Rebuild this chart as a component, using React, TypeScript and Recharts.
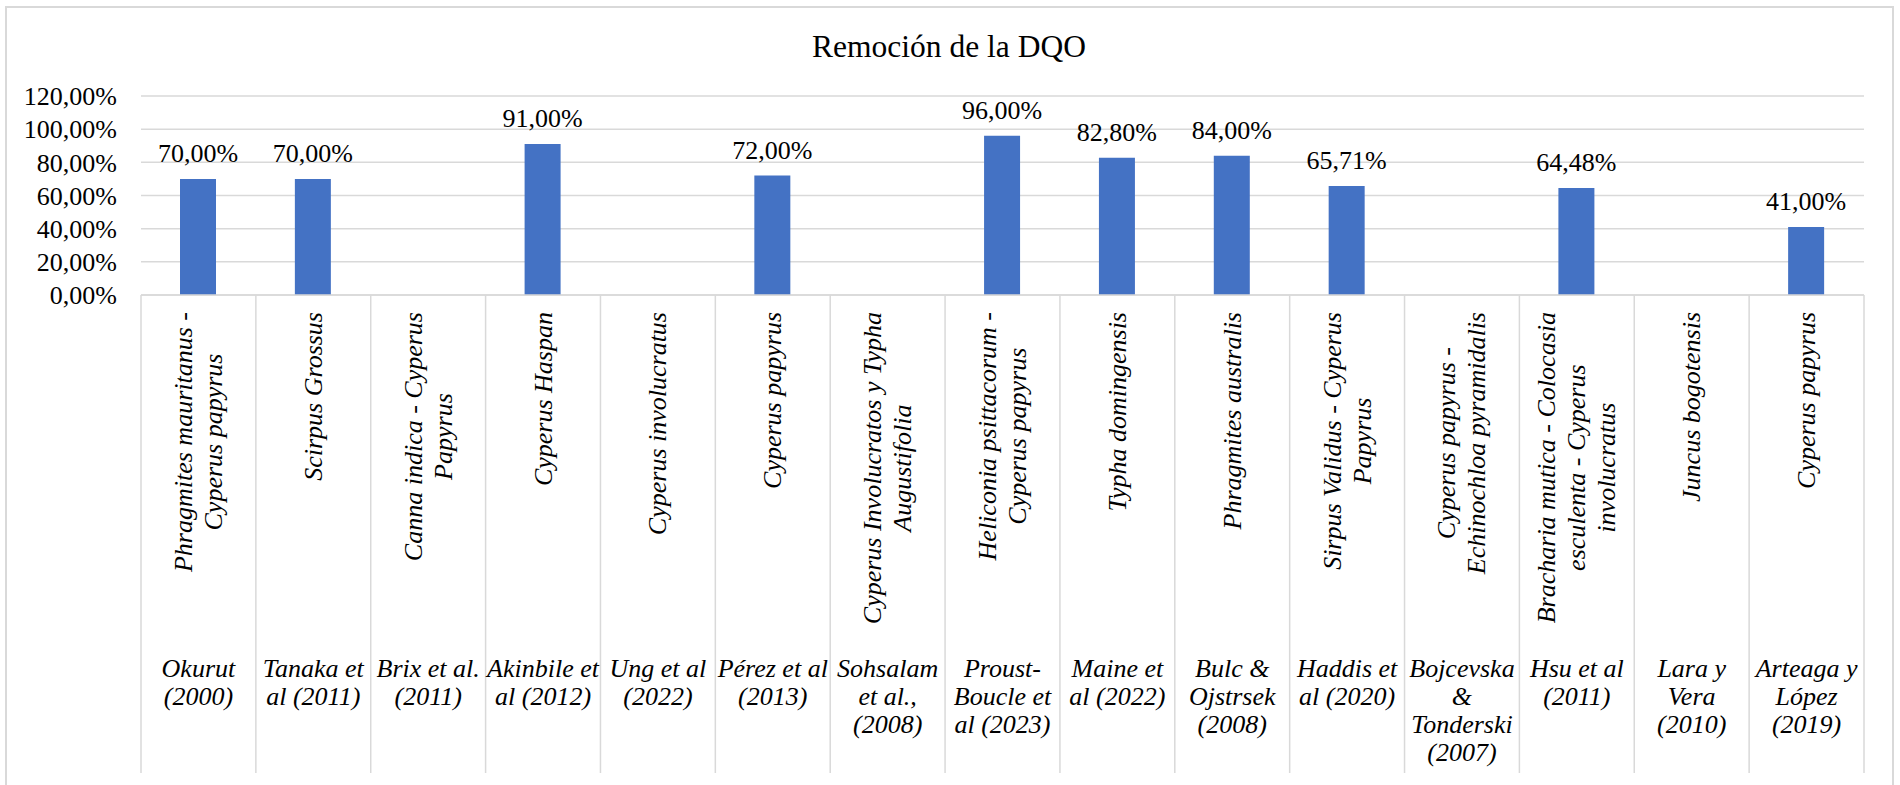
import { BarChart, Bar, XAxis, YAxis, CartesianGrid, LabelList } from "recharts";

const TITLE = "Remoción de la DQO";

const SPECIES: string[][] = [
  ["Phragmites mauritanus -", "Cyperus papyrus"],
  ["Scirpus Grossus"],
  ["Canna indica - Cyperus", "Papyrus"],
  ["Cyperus Haspan"],
  ["Cyperus involucratus"],
  ["Cyperus papyrus"],
  ["Cyperus Involucratos y Typha", "Augustifolia"],
  ["Heliconia psittacorum -", "Cyperus papyrus"],
  ["Typha domingensis"],
  ["Phragmites australis"],
  ["Sirpus Validus - Cyperus", "Papyrus"],
  ["Cyperus papyrus -", "Echinochloa pyramidalis"],
  ["Bracharia mutica - Colocasia", "esculenta - Cyperus", "involucratus"],
  ["Juncus bogotensis"],
  ["Cyperus papyrus"],
];

const AUTHORS: string[][] = [
  ["Okurut", "(2000)"],
  ["Tanaka et", "al (2011)"],
  ["Brix et al.", "(2011)"],
  ["Akinbile et", "al (2012)"],
  ["Ung et al", "(2022)"],
  ["Pérez et al", "(2013)"],
  ["Sohsalam", "et al.,", "(2008)"],
  ["Proust-", "Boucle et", "al (2023)"],
  ["Maine et", "al (2022)"],
  ["Bulc &", "Ojstrsek", "(2008)"],
  ["Haddis et", "al (2020)"],
  ["Bojcevska", "&", "Tonderski", "(2007)"],
  ["Hsu et al", "(2011)"],
  ["Lara y", "Vera", "(2010)"],
  ["Arteaga y", "López", "(2019)"],
];

// % removal, null where the study has no value
const VALUES: (number | null)[] = [70, 70, null, 91, null, 72, null, 96, 82.8, 84, 65.71, null, 64.48, null, 41];

const Y_TICKS = [0, 20, 40, 60, 80, 100, 120];

const data = VALUES.map((v, i) => ({ key: String(i), value: v }));

const W = 1900;
const H = 785;
const MARGIN = { top: 96, right: 36, bottom: 0, left: 0 };
const Y_AXIS_W = 141;
const X_AXIS_H = 490;
const BAND = (W - MARGIN.left - MARGIN.right - Y_AXIS_W) / VALUES.length;

const FONT = "'Liberation Serif', 'Times New Roman', serif";
const GRID = "#d9d9d9";

const pct = (v: number) => `${v.toFixed(2).replace(".", ",")}%`;

let ctx: CanvasRenderingContext2D | null = null;
function textWidth(s: string) {
  if (!ctx) ctx = document.createElement("canvas").getContext("2d");
  if (!ctx) return s.length * 12;
  ctx.font = `italic 26px ${FONT}`;
  return ctx.measureText(s).width;
}

function CategoryTick(props: any) {
  const { x, y, payload, index } = props;
  const half = payload?.offset > 0 ? payload.offset : BAND / 2;
  const species = SPECIES[index] || [];
  const authors = AUTHORS[index] || [];
  const longest = Math.max(...species.map(textWidth));
  const yc = y + 17 + longest / 2;
  const bottom = 773;
  return (
    <g>
      <line x1={x - half} y1={y} x2={x - half} y2={bottom} stroke={GRID} strokeWidth={1.5} />
      {index === VALUES.length - 1 && (
        <line x1={x + half} y1={y} x2={x + half} y2={bottom} stroke={GRID} strokeWidth={1.5} />
      )}
      {species.map((line, i) => {
        const lx = x + (i - (species.length - 1) / 2) * 30;
        return (
          <text
            key={"s" + i}
            x={lx}
            y={yc}
            transform={`rotate(-90, ${lx}, ${yc})`}
            textAnchor="middle"
            dominantBaseline="central"
            fontFamily={FONT}
            fontStyle="italic"
            fontSize={26}
            fill="#000"
          >
            {line}
          </text>
        );
      })}
      {authors.map((line, i) => (
        <text
          key={"a" + i}
          x={x}
          y={y + 381.5 + i * 28}
          textAnchor="middle"
          fontFamily={FONT}
          fontStyle="italic"
          fontSize={26}
          fill="#000"
        >
          {line}
        </text>
      ))}
    </g>
  );
}

function ValueLabel(props: any) {
  const { x, y, width, value } = props;
  if (value === null || value === undefined) return null;
  return (
    <text
      x={x + width / 2}
      y={y - 17}
      textAnchor="middle"
      fontFamily={FONT}
      fontSize={26}
      fill="#000"
    >
      {pct(value)}
    </text>
  );
}

export default function App() {
  return (
    <div
      style={{
        position: "absolute",
        left: 0,
        top: 0,
        width: W,
        height: H,
        overflow: "hidden",
        background: "#fff",
      }}
    >
      <div
        style={{
          position: "absolute",
          left: 5,
          top: 6,
          width: 1889,
          height: 830,
          border: `2px solid ${GRID}`,
          boxSizing: "border-box",
        }}
      />
      <svg width={W} height={80} style={{ position: "absolute", left: 0, top: 0 }}>
        <text x={949} y={56.5} textAnchor="middle" fontFamily={FONT} fontSize={31.5} fill="#000">
          {TITLE}
        </text>
      </svg>
      <div style={{ position: "absolute", left: 0, top: 0 }}>
        <BarChart width={W} height={H} data={data} margin={MARGIN} barSize={36}>
          <CartesianGrid vertical={false} stroke={GRID} strokeWidth={1.5} />
          <XAxis
            dataKey="key"
            height={X_AXIS_H}
            interval={0}
            tickLine={false}
            tickSize={0}
            tickMargin={0}
            axisLine={{ stroke: GRID, strokeWidth: 1.5 }}
            tick={<CategoryTick />}
          />
          <YAxis
            width={Y_AXIS_W}
            domain={[0, 120]}
            ticks={Y_TICKS}
            interval={0}
            axisLine={false}
            tickLine={false}
            tickSize={0}
            tickMargin={24}
            tickFormatter={(v: number) => pct(v)}
            tick={{ fontFamily: FONT, fontSize: 26, fill: "#000" }}
          />
          <Bar dataKey="value" fill="#4472c4" isAnimationActive={false}>
            <LabelList dataKey="value" content={<ValueLabel />} />
          </Bar>
        </BarChart>
      </div>
    </div>
  );
}
